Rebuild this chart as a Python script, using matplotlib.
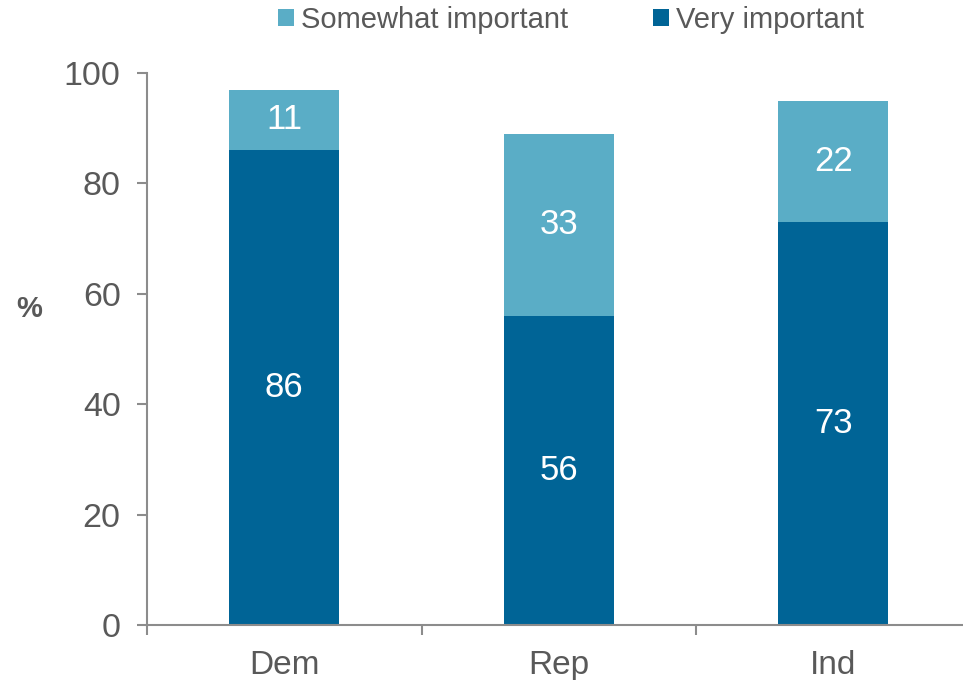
import numpy as np
import matplotlib.pyplot as plt
from matplotlib.ticker import FixedLocator

plt.rcParams['font.family'] = ['Liberation Sans', 'DejaVu Sans']

# data
groups = ["Dem", "Rep", "Ind"]
very = [86, 56, 73]
somewhat = [11, 33, 22]

dark = "#006496"
light = "#5AADC6"
grey_txt = "#595959"
grey_ax = "#8C8C8C"

fig = plt.figure(figsize=(9.63, 6.8), dpi=100)
ax = fig.add_axes([0.1527, 0.0809, 0.855, 0.8117])

x = np.arange(len(groups))
b1 = ax.bar(x, very, width=0.4, color=dark, label="Very important")
b2 = ax.bar(x, somewhat, width=0.4, bottom=very, color=light, label="Somewhat important")

for i in range(len(groups)):
    ax.text(x[i], very[i] / 2, str(very[i]), ha="center", va="center", color="white", fontsize=25)
    ax.text(x[i], very[i] + somewhat[i] / 2, str(somewhat[i]), ha="center", va="center", color="white", fontsize=25)

ax.set_xlim(-0.5, 2.5)
ax.set_ylim(0, 100)
ax.set_yticks([0, 20, 40, 60, 80, 100])
ax.set_xticks(x)
ax.set_xticklabels(groups)
ax.xaxis.set_minor_locator(FixedLocator([-0.5, 0.5, 1.5, 2.5]))
ax.tick_params(axis="x", which="major", length=0, pad=18, labelsize=24, labelcolor=grey_txt)
ax.tick_params(axis="x", which="minor", length=7, width=1.5, color=grey_ax, direction="out")
ax.tick_params(axis="y", length=7, width=1.5, color=grey_ax, pad=12, labelsize=24.5, labelcolor=grey_txt)

for s in ["top", "right"]:
    ax.spines[s].set_visible(False)
for s in ["left", "bottom"]:
    ax.spines[s].set_color(grey_ax)
    ax.spines[s].set_linewidth(1.5)

fig.text(0.03, 0.545, "%", fontsize=21, fontweight="bold", color=grey_txt, ha="center", va="center")

handles = [b2, b1]
fig.legend(handles, ["Somewhat important", "Very important"], loc="upper center",
           bbox_to_anchor=(0.593, 1.03), ncol=2, frameon=False, fontsize=21,
           labelcolor=grey_txt, handlelength=0.55, handleheight=0.55, handletextpad=0.25,
           columnspacing=2.9)

fig.savefig("out.png", dpi=100)
